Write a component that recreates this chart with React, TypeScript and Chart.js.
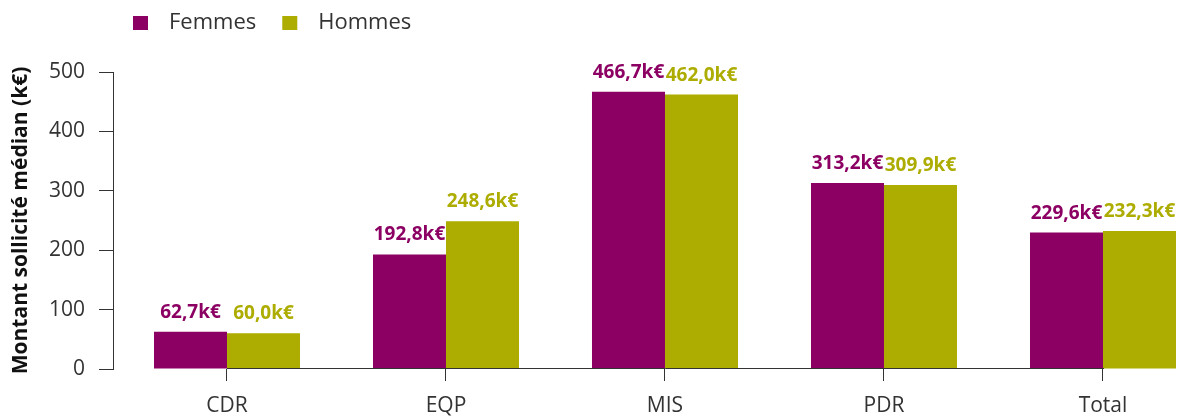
import React, { useEffect, useRef } from 'react';
import { Chart, registerables } from 'chart.js';

Chart.register(...registerables);

const categories = ['CDR', 'EQP', 'MIS', 'PDR', 'Total'];
const femmes = [62.7, 192.8, 466.7, 313.2, 229.6];
const hommes = [60.0, 248.6, 462.0, 309.9, 232.3];
const yTicks = [0, 100, 200, 300, 400, 500];
const seriesNames = ['Femmes', 'Hommes'];
const yTitle = 'Montant sollicité médian (k€)';

const PURPLE = '#8B0062';
const OLIVE = '#ADAC00';
const INK = '#333333';
const FONT = '"Open Sans", Lato, sans-serif';

const fmt = (v: number) => v.toFixed(1).replace('.', ',') + 'k€';

const decorations = {
  id: 'decorations',
  afterDatasetsDraw(chart: any) {
    const ctx = chart.ctx;
    ctx.save();
    ctx.font = `bold 19px ${FONT}`;
    ctx.textAlign = 'center';
    ctx.textBaseline = 'alphabetic';
    chart.data.datasets.forEach((ds: any, di: number) => {
      const meta = chart.getDatasetMeta(di);
      ctx.fillStyle = ds.backgroundColor;
      meta.data.forEach((el: any, i: number) => {
        ctx.fillText(fmt(ds.data[i].y), el.x, el.y - 14);
      });
    });
    ctx.restore();
  },
  afterDraw(chart: any) {
    const ctx = chart.ctx;
    const xs = chart.scales.x;
    const ys = chart.scales.y;
    ctx.save();
    // x axis line spanning first to last category tick
    const yb = Math.round(ys.getPixelForValue(0)) - 0.5;
    ctx.strokeStyle = INK;
    ctx.lineWidth = 1;
    ctx.beginPath();
    ctx.moveTo(Math.round(xs.getPixelForValue(0)), yb);
    ctx.lineTo(Math.round(xs.getPixelForValue(categories.length - 1)) + 1, yb);
    ctx.stroke();
    // legend
    ctx.font = `22px ${FONT}`;
    ctx.textBaseline = 'middle';
    ctx.textAlign = 'left';
    let x = 133;
    const cy = 23;
    chart.data.datasets.forEach((ds: any) => {
      ctx.fillStyle = ds.backgroundColor;
      ctx.fillRect(x, cy - 7, 15, 14);
      x += 15 + 21;
      ctx.fillStyle = INK;
      ctx.fillText(ds.label, x, cy);
      x += ctx.measureText(ds.label).width + 26;
    });
    ctx.restore();
  },
};

export default function App() {
  const ref = useRef<HTMLCanvasElement | null>(null);

  useEffect(() => {
    if (!ref.current) return;
    const chart = new Chart(ref.current, {
      type: 'bar',
      data: {
        datasets: [
          {
            label: seriesNames[0],
            data: femmes.map((v, i) => ({ x: i, y: v })),
            backgroundColor: PURPLE,
            barPercentage: 1,
            categoryPercentage: 2 / 3,
          },
          {
            label: seriesNames[1],
            data: hommes.map((v, i) => ({ x: i, y: v })),
            backgroundColor: OLIVE,
            barPercentage: 1,
            categoryPercentage: 2 / 3,
          },
        ],
      },
      options: {
        responsive: false,
        animation: false,
        layout: { padding: { top: 72, left: 0, right: 0, bottom: 0 } },
        plugins: { legend: { display: false }, tooltip: { enabled: false } },
        scales: {
          x: {
            type: 'linear',
            offset: false,
            min: -0.5205,
            max: 4.3425,
            afterBuildTicks: (s: any) => {
              s.ticks = categories.map((_, i) => ({ value: i }));
            },
            afterFit: (s: any) => {
              s.height = 50;
            },
            grid: { offset: false, drawOnChartArea: false, drawTicks: true, tickLength: 12, color: INK },
            border: { display: false },
            ticks: {
              callback: (v: any) => categories[v] ?? '',
              font: { family: FONT, size: 21 },
              color: INK,
              padding: 12,
              autoSkip: false,
              maxRotation: 0,
            },
          },
          y: {
            type: 'linear',
            min: 0,
            max: 500,
            afterBuildTicks: (s: any) => {
              s.ticks = yTicks.map((v) => ({ value: v }));
            },
            afterFit: (s: any) => {
              s.width = 113;
            },
            grid: { drawOnChartArea: false, drawTicks: true, tickLength: 14, color: INK },
            border: { display: true, color: INK },
            ticks: { font: { family: FONT, size: 21 }, color: INK, padding: 14 },
            title: {
              display: true,
              text: yTitle,
              font: { family: FONT, size: 21, weight: 'bold' },
              color: '#111111',
              padding: { top: 8, bottom: 0 },
            },
          },
        },
      },
      plugins: [decorations],
    } as any);
    return () => chart.destroy();
  }, []);

  return (
    <div style={{ position: 'fixed', left: 0, top: 0, width: 1178, height: 419, background: '#fff' }}>
      <canvas ref={ref} width={1178} height={419} />
    </div>
  );
}
